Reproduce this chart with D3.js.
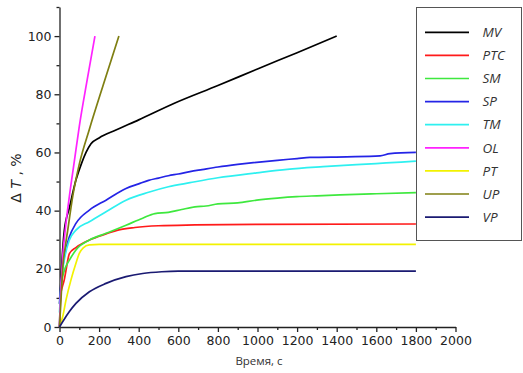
<!DOCTYPE html>
<html lang="en">
<head>
<meta charset="UTF-8">
<title>dT chart</title>
<script src="https://d3js.org/d3.v7.min.js"></script>
<style>
  body { margin: 0; background: #fff; }
  svg { display: block; }
</style>
</head>
<body>
<div id="chart"></div>
<script>
// series names and colours (legend order)
const seriesNames = ["MV", "PTC", "SM", "SP", "TM", "OL", "PT", "UP", "VP"];
const seriesColors = ["#000000", "#ff1a1a", "#3ee83e", "#2424e6", "#2ef0f0", "#ff22ff", "#f2f200", "#7f7f12", "#1a1a72"];

// [time, dT%]
const mv = [[0,0],[5,12],[12,22],[24,33],[50,41],[83,50.5],[110,56],[134,60],[159,63],[200,65],[285,67.7],[400,71.2],[583,77],[800,83],[1000,88.7],[1200,94.3],[1400,100]];
const ptc = [[0,10],[15,14],[24,16.2],[33,19.6],[50,25.2],[83,27.3],[151,29.9],[235,32],[300,33.4],[381,34.2],[500,34.8],[684,35.1],[1000,35.3],[1800,35.4]];
const sm = [[0,8],[8,14],[16,17.3],[30,20.5],[50,23],[83,26.5],[151,29.9],[235,32.2],[336,35],[420,37.4],[482,39],[550,39.4],[617,40.4],[684,41.3],[740,41.6],[800,42.3],[900,42.7],[996,43.6],[1100,44.3],[1198,44.8],[1300,45.1],[1417,45.4],[1600,45.8],[1800,46.2]];
const sp = [[0,8],[10,17],[24,24],[50,31],[83,35.6],[151,40.2],[235,43.6],[336,47.6],[400,49.2],[450,50.4],[500,51.2],[550,52],[600,52.6],[659,53.4],[720,54.1],[800,55],[900,55.9],[979,56.5],[1100,57.3],[1200,57.9],[1265,58.3],[1450,58.5],[1619,58.8],[1669,59.6],[1800,60]];
const tm = [[0,5],[10,16],[24,23],[50,29.9],[83,33.3],[151,36.2],[235,39.6],[336,43.6],[450,46.3],[550,48.2],[659,49.6],[800,51.3],[996,53],[1150,54.2],[1331,55.1],[1500,55.8],[1650,56.4],[1800,57]];
const ol = [[0,0],[5,10],[10,17],[16,24],[30,34],[50,45],[75,57],[100,69],[140,85],[179,100]];
const pt = [[0,0],[16,3.5],[33,9.3],[58,16.2],[83,21.9],[100,25.3],[120,27.2],[151,28.2],[200,28.4],[1800,28.4]];
const up = [[0,0],[8,10],[16,20],[30,28],[41,33],[67,45],[100,56],[151,68],[220,83],[300,100]];
const vp = [[0,0],[16,1.8],[50,5.3],[83,8.1],[151,12.1],[235,15],[336,17.3],[420,18.4],[516,19],[600,19.2],[1800,19.2]];
const seriesData = [mv, ptc, sm, sp, tm, ol, pt, up, vp];

const xTicks = [0, 200, 400, 600, 800, 1000, 1200, 1400, 1600, 1800, 2000];
const yTicks = [0, 20, 40, 60, 80, 100];

const width = 523, height = 373;
const svg = d3.select("#chart").append("svg")
  .attr("width", width)
  .attr("height", height);

const x = d3.scaleLinear().domain([0, 2000]).range([59.5, 455.5]);
const y = d3.scaleLinear().domain([0, 110]).range([327, 7]);

// minor ticks
svg.append("g")
  .attr("transform", "translate(0,327)")
  .call(d3.axisBottom(x).tickValues(d3.range(100, 2000, 200)).tickSize(3).tickFormat(""))
  .call(g => g.select(".domain").remove());
svg.append("g")
  .attr("transform", "translate(59.5,0)")
  .call(d3.axisLeft(y).tickValues(d3.range(10, 111, 20)).tickSize(3).tickFormat(""))
  .call(g => g.select(".domain").remove());

// main axes
svg.append("g")
  .attr("transform", "translate(0,327)")
  .call(d3.axisBottom(x).tickValues(xTicks).tickFormat(d3.format("d")).tickSize(5).tickSizeOuter(0).tickPadding(4));
svg.append("g")
  .attr("transform", "translate(59.5,0)")
  .call(d3.axisLeft(y).tickValues(yTicks).tickFormat(d3.format("d")).tickSize(5).tickSizeOuter(0).tickPadding(3));

svg.selectAll(".tick line, .domain").attr("stroke", "#222").attr("stroke-width", 1.3);
svg.selectAll(".tick text")
  .attr("fill", "#222")
  .style("font-family", "'DejaVu Sans', sans-serif")
  .style("font-size", "12.5px");

// lines
const line = d3.line()
  .x(d => x(d[0]))
  .y(d => y(d[1]))
  .curve(d3.curveMonotoneX);

seriesData.forEach((s, i) => {
  svg.append("path")
    .datum(s)
    .attr("fill", "none")
    .attr("stroke", seriesColors[i])
    .attr("stroke-width", 1.7)
    .attr("d", line);
});

// axis titles
svg.append("text")
  .attr("transform", "translate(21,178) rotate(-90)")
  .attr("text-anchor", "middle")
  .attr("fill", "#222")
  .style("font-family", "'DejaVu Sans', sans-serif")
  .style("font-size", "14px")
  .html("&#916; <tspan font-style='italic'>T</tspan> , %");

svg.append("text")
  .attr("x", 259)
  .attr("y", 365)
  .attr("text-anchor", "middle")
  .attr("fill", "#333")
  .style("font-family", "'Open Sans', sans-serif")
  .style("font-size", "11.5px")
  .text("Время, с");

// legend
const legend = svg.append("g");
legend.append("rect")
  .attr("x", 416.5).attr("y", 7.5)
  .attr("width", 105).attr("height", 233)
  .attr("fill", "#fff")
  .attr("stroke", "#555")
  .attr("stroke-width", 1);

seriesNames.forEach((name, i) => {
  const ly = 32.3 + i * 23.1;
  legend.append("line")
    .attr("x1", 425).attr("x2", 469)
    .attr("y1", ly).attr("y2", ly)
    .attr("stroke", seriesColors[i])
    .attr("stroke-width", 1.7);
  legend.append("text")
    .attr("x", 482.5)
    .attr("y", ly + 4.7)
    .attr("fill", "#333")
    .style("font-family", "'Open Sans', sans-serif")
    .style("font-style", "italic")
    .style("font-size", "13.5px")
    .text(name);
});
</script>
</body>
</html>
